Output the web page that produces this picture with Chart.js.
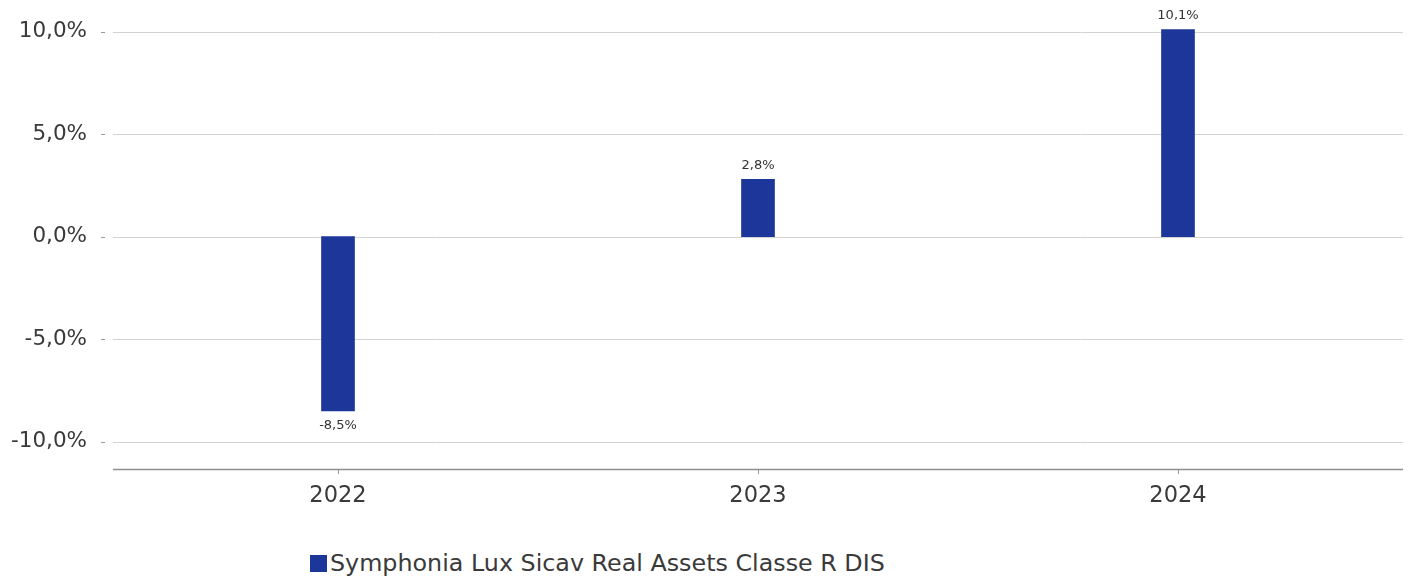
<!DOCTYPE html>
<html>
<head>
<meta charset="utf-8">
<script src="https://cdn.jsdelivr.net/npm/chart.js@4.4.1/dist/chart.umd.min.js"></script>
<style>
  html,body{margin:0;padding:0;background:#fff;}
  #wrap{position:relative;width:1413px;height:578px;}
  #box{position:absolute;left:0;top:0;width:1413px;height:530px;}
  #leg{position:absolute;left:310px;top:549px;font-family:"DejaVu Sans",sans-serif;font-size:23.8px;color:#3a3a3a;display:flex;align-items:center;white-space:nowrap;}
  #leg span.sw{display:inline-block;width:17px;height:17px;background:#1c369a;margin-right:3px;}
</style>
</head>
<body>
<div id="wrap">
  <div id="box"><canvas id="c"></canvas></div>
  <div id="leg"><span class="sw"></span><span>Symphonia Lux Sicav Real Assets Classe R DIS</span></div>
</div>
<script>
// dati del grafico
const anni=['2022','2023','2024'];
const rendimenti=[-8.5,2.8,10.1];
const tickY=[-10,-5,0,5,10];
const nomeSerie='Symphonia Lux Sicav Real Assets Classe R DIS';

const blu='#1c369a';
const font='"DejaVu Sans", sans-serif';
const fmt=v=>v.toFixed(1).replace('.',',')+'%';

// griglia orizzontale che sborda un po' oltre l'area del grafico + trattini a sinistra
const gridPlugin={
  id:'gridExt',
  beforeDatasetsDraw(chart){
    const {ctx,chartArea:a,scales:{y}}=chart;
    ctx.save();
    ctx.lineWidth=1;
    tickY.forEach(v=>{
      const py=Math.round(y.getPixelForValue(v))+0.5;
      ctx.strokeStyle='#d2d2d2';
      ctx.beginPath();ctx.moveTo(a.left-15,py);ctx.lineTo(a.right+15,py);ctx.stroke();
      ctx.strokeStyle='#9a9a9a';
      ctx.beginPath();ctx.moveTo(a.left-27,py);ctx.lineTo(a.left-23,py);ctx.stroke();
    });
    ctx.strokeStyle='#8f8f8f';ctx.lineWidth=1.3;
    const pb=Math.round(a.bottom)+0.5;
    ctx.beginPath();ctx.moveTo(a.left-15,pb);ctx.lineTo(a.right+15,pb);ctx.stroke();
    ctx.restore();
  }
};

// etichette sopra/sotto le barre
const labelPlugin={
  id:'valLabels',
  afterDatasetsDraw(chart){
    const {ctx}=chart;
    const meta=chart.getDatasetMeta(0);
    ctx.save();
    ctx.font='13px '+font;
    ctx.fillStyle='#333';
    ctx.textAlign='center';ctx.textBaseline='middle';
    meta.data.forEach((bar,i)=>{
      const v=rendimenti[i];
      const py=v>=0?bar.y-14:bar.y+15;
      ctx.fillText(fmt(v),bar.x,py);
    });
    ctx.restore();
  }
};

new Chart(document.getElementById('c').getContext('2d'),{
  type:'bar',
  data:{labels:anni,datasets:[{label:nomeSerie,data:rendimenti,backgroundColor:blu,barThickness:33}]},
  options:{responsive:true,maintainAspectRatio:false,animation:false,
    layout:{padding:{top:1,right:25,left:0,bottom:0}},
    plugins:{legend:{display:false},tooltip:{enabled:false}},
    scales:{
      x:{grid:{display:true,offset:false,drawOnChartArea:false,color:'#9a9a9a',tickLength:5},border:{display:false},
         ticks:{color:'#3a3a3a',padding:9,font:{family:font,size:22.5}},
         afterFit:s=>{s.height=61;}},
      y:{min:-11.34,max:11.5,bounds:'data',
         afterBuildTicks:s=>{s.ticks=tickY.map(v=>({value:v}));s.min=-11.34;s.max=11.5;},
         grid:{display:false,drawTicks:false},border:{display:false},
         ticks:{color:'#3a3a3a',padding:41,callback:v=>fmt(v),font:{family:font,size:21.5}},
         // il padding delle etichette non deve spingere giù l'area del grafico
         afterFit:s=>{s.width=128;s.paddingTop=0;s.paddingBottom=0;}}
    }},
  plugins:[gridPlugin,labelPlugin]
});
</script>
</body>
</html>
